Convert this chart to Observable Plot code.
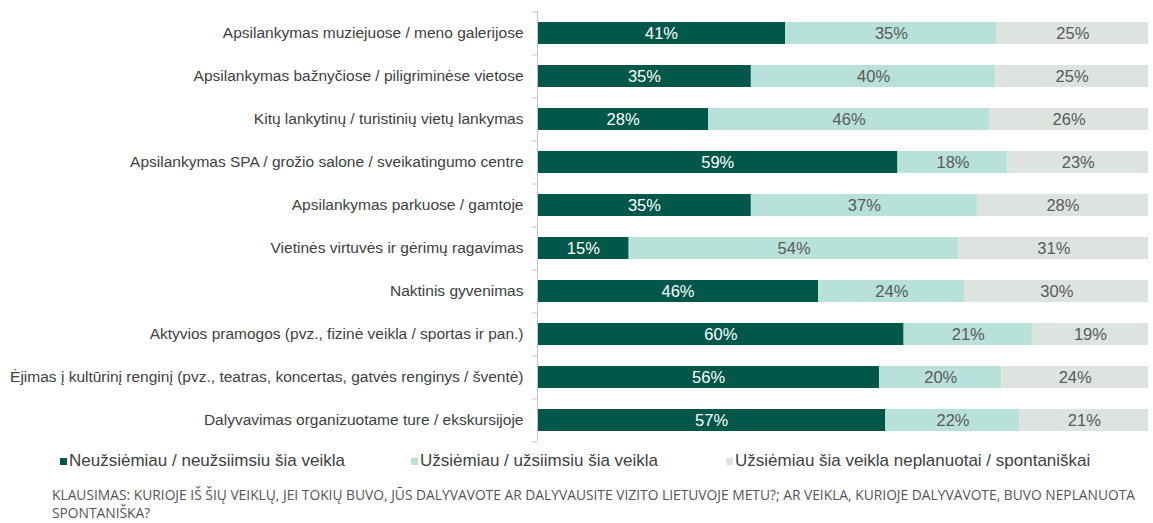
<!DOCTYPE html>
<html>
<head>
<meta charset="utf-8">
<script src="https://cdn.jsdelivr.net/npm/d3@7"></script>
<script src="https://cdn.jsdelivr.net/npm/@observablehq/plot@0.6"></script>
<style>
  html, body { margin: 0; padding: 0; background: #fff; }
  body { width: 1153px; height: 523px; overflow: hidden; font-family: "Liberation Sans", Arial, sans-serif; }
  #chart svg { display: block; }
  #legend { position: relative; height: 30px; font-size: 17px; line-height: 20px; color: #404040; }
  #legend .item { position: absolute; top: 4px; white-space: nowrap; }
  #legend .sw { display: inline-block; width: 7px; height: 7px; margin-right: 2px; vertical-align: 1px; }
  #note { margin: 9px 0 0 52px; font-family: "Open Sans", sans-serif; font-size: 13.8px; line-height: 18px; color: #555; white-space: nowrap; }
</style>
</head>
<body>
<div id="chart"></div>
<div id="legend"></div>
<div id="note">KLAUSIMAS: KURIOJE IŠ ŠIŲ VEIKLŲ, JEI TOKIŲ BUVO, JŪS DALYVAVOTE AR DALYVAUSITE VIZITO LIETUVOJE METU?; AR VEIKLA, KURIOJE DALYVAVOTE, BUVO NEPLANUOTA<br>SPONTANIŠKA?</div>
<script>
const categories = [
  "Apsilankymas muziejuose / meno galerijose",
  "Apsilankymas bažnyčiose / piligriminėse vietose",
  "Kitų lankytinų / turistinių vietų lankymas",
  "Apsilankymas SPA / grožio salone / sveikatingumo centre",
  "Apsilankymas parkuose / gamtoje",
  "Vietinės virtuvės ir gėrimų ragavimas",
  "Naktinis gyvenimas",
  "Aktyvios pramogos (pvz., fizinė veikla / sportas ir pan.)",
  "Ėjimas į kultūrinį renginį (pvz., teatras, koncertas, gatvės renginys / šventė)",
  "Dalyvavimas organizuotame ture / ekskursijoje"
];
const series = [
  "Neužsiėmiau / neužsiimsiu šia veikla",
  "Užsiėmiau / užsiimsiu šia veikla",
  "Užsiėmiau šia veikla neplanuotai / spontaniškai"
];
const neuzsiemiau = [41, 35, 28, 59, 35, 15, 46, 60, 56, 57];
const uzsiemiau   = [35, 40, 46, 18, 37, 54, 24, 21, 20, 22];
const spontaniskai = [25, 25, 26, 23, 28, 31, 30, 19, 24, 21];
const colors = ["#00574a", "#b8e1d9", "#dde4e0"];

const valuesBySeries = [neuzsiemiau, uzsiemiau, spontaniskai];
const data = [];
categories.forEach((c, i) => {
  series.forEach((s, j) => data.push({category: c, series: s, value: valuesBySeries[j][i]}));
});

const chart = Plot.plot({
  width: 1153,
  height: 447,
  marginLeft: 537,
  marginRight: 5,
  marginTop: 11,
  marginBottom: 6,
  style: {fontFamily: "'Liberation Sans', Arial, sans-serif", background: "#fff"},
  x: {axis: null, domain: [0, 1]},
  y: {domain: categories, paddingInner: 0.5, paddingOuter: 0.25, label: null},
  color: {domain: [...series, "lbl-light", "lbl-dark"], range: [...colors, "#ffffff", "#595959"]},
  marks: [
    Plot.barX(data, Plot.stackX({x: "value", y: "category", fill: "series", offset: "normalize"})),
    Plot.text(data, Plot.stackX({
      x: "value", y: "category", z: "series", offset: "normalize",
      text: d => d.value + "%",
      fill: d => d.series === series[0] ? "lbl-light" : "lbl-dark",
      fontSize: 16.5
    })),
    Plot.ruleX([0], {stroke: "#c4c4c4", strokeWidth: 1}),
    Plot.axisY({tickSize: 0, tickPadding: 14, fontSize: 15.5, fill: "#404040", label: null}),
    Plot.axisY({ticks: categories, tickSize: 5, dy: 21.5, text: null, stroke: "#c4c4c4"}),
    Plot.axisY({ticks: [categories[0]], tickSize: 5, dy: -21.5, text: null, stroke: "#c4c4c4"})
  ]
});
document.getElementById("chart").appendChild(chart);

const legendPos = [60, 411, 726];
const legend = document.getElementById("legend");
series.forEach((s, i) => {
  const item = document.createElement("div");
  item.className = "item";
  item.style.left = legendPos[i] + "px";
  item.innerHTML = `<span class="sw" style="background:${colors[i]}"></span>${s}`;
  legend.appendChild(item);
});
</script>
</body>
</html>
